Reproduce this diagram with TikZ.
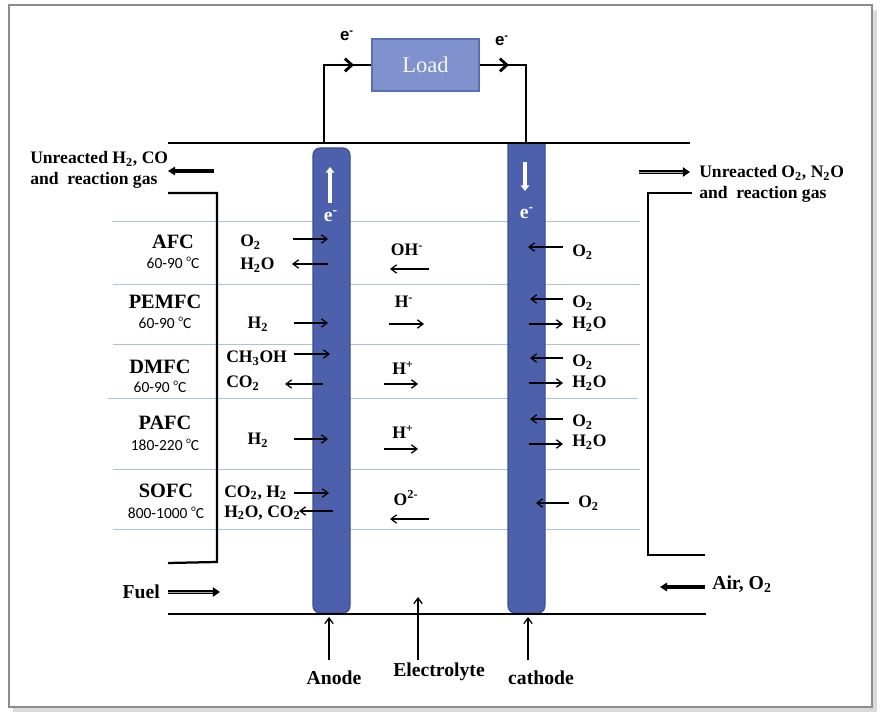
\documentclass[tikz,border=0pt]{standalone}
\usepackage{fontspec}
\setmainfont{Liberation Serif}
\newfontfamily\tempfont{Carlito}
\newfontfamily\wirefont{Liberation Sans}
\usetikzlibrary{arrows.meta}

\definecolor{electrodeblue}{RGB}{76,96,172}
\definecolor{electrodeline}{RGB}{60,78,150}
\definecolor{loadblue}{RGB}{128,146,206}
\definecolor{loadline}{RGB}{90,110,178}
\definecolor{rowline}{RGB}{178,190,222}

\tikzset{
  chem/.style={font=\fontsize{12.5}{14}\selectfont\bfseries, inner sep=0pt},
  cellname/.style={font=\fontsize{14.5}{16}\selectfont\bfseries, inner sep=0pt},
  celltemp/.style={font=\tempfont\fontsize{11}{12}\selectfont, inner sep=0pt},
  biglabel/.style={font=\fontsize{14}{16}\selectfont\bfseries, inner sep=0pt},
  gaslabel/.style={font=\fontsize{12.5}{15}\selectfont\bfseries, inner sep=0pt, align=left},
  flow/.style={line width=0.9pt, -{Straight Barb[length=4pt,width=6pt]}},
  gasflow/.style={line width=2.2pt, -{Triangle[length=5pt,width=6pt]}},
  gasdouble/.style={double=black!35, double distance=0.45pt, line width=1.3pt, -{Triangle[length=5pt,width=6.5pt]}},
  wire/.style={line width=2pt},
  plate/.style={line width=1.6pt},
  rowsep/.style={rowline, line width=0.6pt},
  electrode/.style={fill=electrodeblue, draw=electrodeline, line width=0.8pt},
  loadbox/.style={fill=loadblue, draw=loadline, line width=0.8pt,
    minimum width=2.675cm, minimum height=1.3cm, text=black!4,
    font=\fontsize{16}{18}\selectfont},
}
\newcommand\degsign{\raisebox{0.9ex}{\fontsize{6.5}{7}\selectfont o}}

\begin{document}
\begin{tikzpicture}[x=0.025cm, y=-0.025cm]
  \useasboundingbox (0,0) rectangle (883,722);

  % --- cornice con ombra ---
  \fill[black!15] (13,10) rectangle (877,712);
  \filldraw[fill=white, draw=black!45, line width=0.8pt] (9,5) rectangle (872,707);

  % --- separatori delle righe ---
  \draw[rowsep] (112,221) -- (640,221);
  \draw[rowsep] (113,284) -- (640,284);
  \draw[rowsep] (113,344) -- (640,344);
  \draw[rowsep] (108,398) -- (638,398);
  \draw[rowsep] (113,469) -- (640,469);
  \draw[rowsep] (113,529) -- (640,529);

  % --- elettrodi ---
  \draw[electrode, rounded corners=5pt] (313,148) rectangle (350,613);
  \begin{scope}
    \clip (0,143) rectangle (883,700);
    \draw[electrode, rounded corners=5pt] (508,130) rectangle (545,613);
  \end{scope}
  \draw[white, line width=2.4pt, -{Triangle[length=4pt,width=6pt]}] (330,203) -- (330,167);
  \node[text=white, font=\fontsize{14}{16}\selectfont\bfseries] (eanode) at (331,216) {e\textsuperscript{-}};
  \draw[white, line width=2.4pt, -{Triangle[length=4pt,width=6pt]}] (525,162) -- (525,191);
  \node[text=white, font=\fontsize{14}{16}\selectfont\bfseries] (ecathode) at (527,213) {e\textsuperscript{-}};

  % --- piastre superiore e inferiore ---
  \draw[plate] (168,143) -- (690,143);
  \draw[plate] (168,614) -- (706,614);

  % --- carico e circuito esterno ---
  \node[loadbox] (load) at (425.5,65) {Load};
  \draw[wire, -{Straight Barb[length=5pt,width=9pt]}] (324,143) |- (354,65);
  \draw[wire] (350,65) -- (load.west);
  \draw[wire, -{Straight Barb[length=5pt,width=9pt]}] (load.east) -- (509,65);
  \draw[wire] (505,65) -| (526,143);
  \node[font=\wirefont\fontsize{12}{14}\selectfont\bfseries] (eleft) at (347,36) {e\textsuperscript{-}};
  \node[font=\wirefont\fontsize{12}{14}\selectfont\bfseries] (eright) at (502,41) {e\textsuperscript{-}};

  % --- lato combustibile ---
  \draw[plate] (168,193) -- (217,193) -- (217,562) -- (168,563);
  \node[gaslabel, anchor=west] (fuelout) at (30,170) {Unreacted H\textsubscript{2}, CO\\and~ reaction gas};
  \draw[gasflow] (214,171) -- (168,171);
  \node[biglabel, anchor=east] (fuel) at (160,592) {Fuel};
  \draw[gasdouble] (168,592) -- (220,592);

  % --- lato aria ---
  \draw[plate] (692,193) -- (648,193) -- (648,555) -- (705,555);
  \node[gaslabel, anchor=west] (airout) at (699,184) {Unreacted O\textsubscript{2}, N\textsubscript{2}O\\and~ reaction gas};
  \draw[gasdouble] (639,172) -- (690,172);
  \node[biglabel, anchor=west] (air) at (712,584) {Air, O\textsubscript{2}};
  \draw[gasflow] (705,587) -- (660,587);

  % --- AFC ---
  \node[cellname] (afc) at (173,242) {AFC};
  \node[celltemp] (afct) at (173,263) {60-90 \degsign C};
  \node[chem, anchor=west] (afcin) at (240,242) {O\textsubscript{2}};
  \node[chem, anchor=west] (afcout) at (240,265) {H\textsubscript{2}O};
  \draw[flow] (293,239) -- (328,239);
  \draw[flow] (328,264) -- (292,264);
  \node[chem] (afcion) at (407,250) {OH\textsuperscript{-}};
  \draw[flow] (429,269) -- (390,269);
  \draw[flow] (563,247) -- (528,247);
  \node[chem, anchor=west] (afcox) at (572,252) {O\textsubscript{2}};

  % --- PEMFC ---
  \node[cellname] (pemfc) at (165,302) {PEMFC};
  \node[celltemp] (pemfct) at (165,323) {60-90 \degsign C};
  \node[chem] (pemfcin) at (258,324) {H\textsubscript{2}};
  \draw[flow] (294,323) -- (328,323);
  \node[chem] (pemfcion) at (404,302) {H\textsuperscript{-}};
  \draw[flow] (389,324) -- (424,324);
  \draw[flow] (563,299) -- (530,299);
  \node[chem, anchor=west] (pemfcox) at (572,303) {O\textsubscript{2}};
  \draw[flow] (529,324) -- (563,324);
  \node[chem, anchor=west] (pemfcw) at (572,324) {H\textsubscript{2}O};

  % --- DMFC ---
  \node[cellname] (dmfc) at (160,367) {DMFC};
  \node[celltemp] (dmfct) at (160,387) {60-90 \degsign C};
  \node[chem, anchor=west] (dmfcin) at (226,358) {CH\textsubscript{3}OH};
  \draw[flow] (294,354) -- (330,354);
  \node[chem, anchor=west] (dmfcout) at (226,383) {CO\textsubscript{2}};
  \draw[flow] (323,384) -- (285,384);
  \node[chem] (dmfcion) at (403,368) {H\textsuperscript{+}};
  \draw[flow] (384,384) -- (418,384);
  \draw[flow] (563,358) -- (530,358);
  \node[chem, anchor=west] (dmfcox) at (572,362) {O\textsubscript{2}};
  \draw[flow] (529,383) -- (563,383);
  \node[chem, anchor=west] (dmfcw) at (572,383) {H\textsubscript{2}O};

  % --- PAFC ---
  \node[cellname] (pafc) at (165,423) {PAFC};
  \node[celltemp] (pafct) at (165,445) {180-220 \degsign C};
  \node[chem] (pafcin) at (258,440) {H\textsubscript{2}};
  \draw[flow] (294,439) -- (328,439);
  \node[chem] (pafcion) at (403,432) {H\textsuperscript{+}};
  \draw[flow] (384,449) -- (418,449);
  \draw[flow] (563,419) -- (530,419);
  \node[chem, anchor=west] (pafcox) at (572,422) {O\textsubscript{2}};
  \draw[flow] (529,444) -- (563,444);
  \node[chem, anchor=west] (pafcw) at (572,442) {H\textsubscript{2}O};

  % --- SOFC ---
  \node[cellname] (sofc) at (166,491) {SOFC};
  \node[celltemp] (sofct) at (166,513) {800-1000 \degsign C};
  \node[chem, anchor=west] (sofcin) at (224,493) {CO\textsubscript{2}, H\textsubscript{2}};
  \draw[flow] (294,493) -- (329,493);
  \node[chem, anchor=west] (sofcout) at (224,513) {H\textsubscript{2}O, CO\textsubscript{2}};
  \draw[flow] (333,511) -- (299,511);
  \node[chem] (sofcion) at (406,498) {O\textsuperscript{2-}};
  \draw[flow] (429,519) -- (390,519);
  \draw[flow] (569,503) -- (536,503);
  \node[chem, anchor=west] (sofcox) at (578,503) {O\textsubscript{2}};

  % --- etichette in basso ---
  \node[biglabel] (anode) at (334,678) {Anode};
  \node[biglabel] (electrolyte) at (439,672) {Electrolyte};
  \node[biglabel] (cathode) at (541,678) {cathode};
  \coordinate (anodefoot) at (329,617);
  \coordinate (electrolytefoot) at (418,597);
  \coordinate (cathodefoot) at (528,617);
  \draw[flow] (329,660) -- (anodefoot);
  \draw[flow] (418,660) -- (electrolytefoot);
  \draw[flow] (528,660) -- (cathodefoot);

\end{tikzpicture}
\end{document}
